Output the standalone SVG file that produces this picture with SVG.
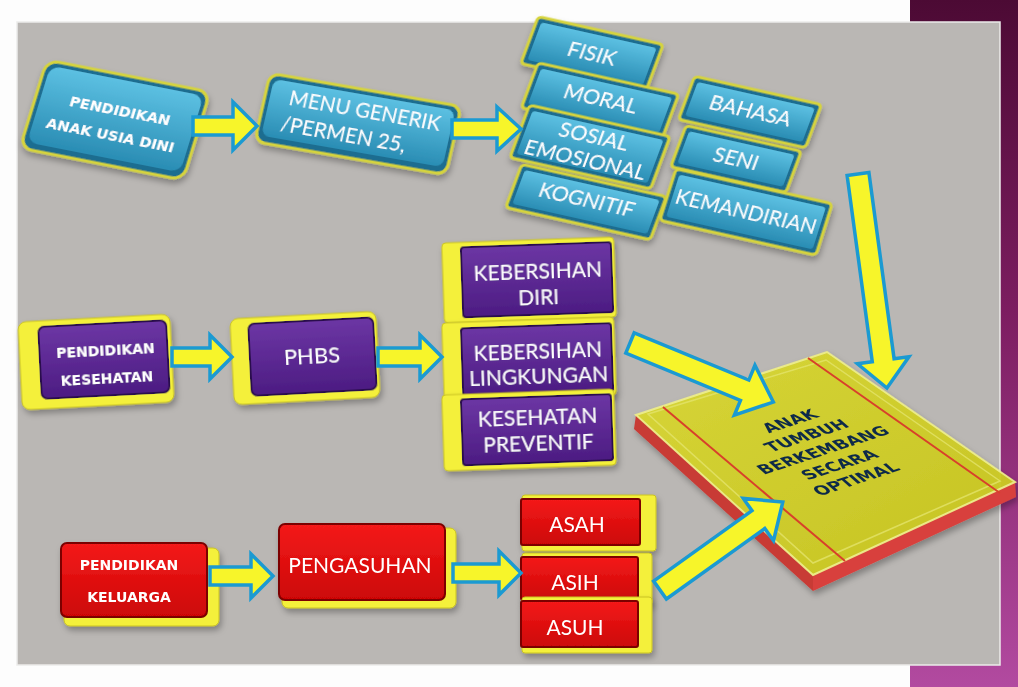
<svg xmlns="http://www.w3.org/2000/svg" width="1018" height="687" viewBox="0 0 1018 687">
<defs>
<linearGradient id="strip" x1="0" y1="0" x2="0" y2="1">
<stop offset="0" stop-color="#4c0a34"/><stop offset="0.45" stop-color="#7c1d60"/><stop offset="1" stop-color="#b24aa0"/>
</linearGradient>
<linearGradient id="blueG" x1="0" y1="0" x2="0" y2="1">
<stop offset="0" stop-color="#5cc0e2"/><stop offset="1" stop-color="#2a8db4"/>
</linearGradient>
<linearGradient id="purpG" x1="0" y1="0" x2="0" y2="1">
<stop offset="0" stop-color="#6c36a4"/><stop offset="1" stop-color="#4c1c82"/>
</linearGradient>
<linearGradient id="redG" x1="0" y1="0" x2="0" y2="1">
<stop offset="0" stop-color="#f41a1a"/><stop offset="1" stop-color="#cc0606"/>
</linearGradient>
<linearGradient id="bookG" x1="0" y1="0" x2="1" y2="1">
<stop offset="0" stop-color="#d9d834"/><stop offset="1" stop-color="#c9c61e"/>
</linearGradient>
<filter id="sh" x="-20%" y="-20%" width="140%" height="150%">
<feDropShadow dx="2" dy="4" stdDeviation="3" flood-color="#000" flood-opacity="0.3"/>
</filter>
<style>
.bOut{fill:#1d6d90;stroke:#d6d43c;stroke-width:3}
.bIn{fill:url(#blueG)}
.ySlab{fill:#f4f03a;stroke:#c9c222;stroke-width:1}
.pFace{fill:url(#purpG);stroke:#2c0c4e;stroke-width:2}
.rFace{fill:url(#redG);stroke:#7c0000;stroke-width:2}
.tB{font-family:"DejaVu Sans",sans-serif;font-weight:bold;fill:#fff;text-anchor:middle}
.tL{font-family:Lato,"Open Sans",sans-serif;fill:#fff;text-anchor:middle}
.tBook{font-family:"DejaVu Sans",sans-serif;font-weight:bold;fill:#102a48;text-anchor:middle;font-size:17px}
.arr{fill:#f7f52a;stroke:#1b9ad2;stroke-width:3.5;stroke-linejoin:miter}
</style>
</defs>

<rect x="0" y="0" width="1018" height="687" fill="#fdfdfd"/>
<rect x="910" y="0" width="108" height="687" fill="url(#strip)"/>
<rect x="17" y="22" width="983" height="643" fill="#bab7b4" stroke="#ecebea" stroke-width="1.5"/>

<!-- top row -->
<g id="node-paud" filter="url(#sh)" transform="translate(115,120) matrix(0.982,0.193,-0.293,0.956,0,0)">
<rect x="-83" y="-46" width="166" height="92" rx="12" class="bOut"/>
<rect x="-78" y="-41" width="156" height="80" rx="10" class="bIn"/>
<text x="2" y="-5" class="tB" font-size="14.5">PENDIDIKAN</text>
<text x="0" y="21" class="tB" font-size="14.5">ANAK USIA DINI</text>
</g>
<g id="node-menu" filter="url(#sh)" transform="translate(358,124) matrix(0.985,0.171,-0.22,0.976,0,0)">
<rect x="-97" y="-35" width="194" height="70" rx="10" class="bOut"/>
<rect x="-92" y="-30" width="184" height="58" rx="8" class="bIn"/>
<text x="4" y="-7" class="tL" font-size="20.5">MENU GENERIK</text>
<text x="-12" y="20" class="tL" font-size="20.5">/PERMEN 25,</text>
</g>

<g id="node-fisik" filter="url(#sh)" transform="translate(592,54) matrix(0.976,0.218,-0.35,0.94,0,0)">
<rect x="-64" y="-25" width="128" height="50" rx="4" class="bOut"/>
<rect x="-59" y="-20" width="118" height="40" rx="3" class="bIn"/>
<text x="0" y="7" class="tL" font-size="21">FISIK</text>
</g>
<g id="node-moral" filter="url(#sh)" transform="translate(600,101) matrix(0.976,0.218,-0.35,0.94,0,0)">
<rect x="-72" y="-24" width="144" height="48" rx="4" class="bOut"/>
<rect x="-67" y="-19" width="134" height="38" rx="3" class="bIn"/>
<text x="0" y="5" class="tL" font-size="21">MORAL</text>
</g>
<g id="node-bahasa" filter="url(#sh)" transform="translate(750,112) matrix(0.976,0.218,-0.35,0.94,0,0)">
<rect x="-65" y="-23" width="130" height="46" rx="4" class="bOut"/>
<rect x="-60" y="-18" width="120" height="36" rx="3" class="bIn"/>
<text x="0" y="6" class="tL" font-size="21">BAHASA</text>
</g>
<g id="node-sosial" filter="url(#sh)" transform="translate(590,147) matrix(0.976,0.218,-0.35,0.94,0,0)">
<rect x="-72" y="-28" width="144" height="56" rx="4" class="bOut"/>
<rect x="-67" y="-23" width="134" height="46" rx="3" class="bIn"/>
<text x="0" y="-4" class="tL" font-size="21">SOSIAL</text>
<text x="0" y="21" class="tL" font-size="21">EMOSIONAL</text>
</g>
<g id="node-seni" filter="url(#sh)" transform="translate(736,159) matrix(0.976,0.218,-0.35,0.94,0,0)">
<rect x="-59" y="-22" width="118" height="44" rx="4" class="bOut"/>
<rect x="-54" y="-17" width="108" height="34" rx="3" class="bIn"/>
<text x="0" y="7" class="tL" font-size="21">SENI</text>
</g>
<g id="node-kognitif" filter="url(#sh)" transform="translate(586,202) matrix(0.976,0.218,-0.35,0.94,0,0)">
<rect x="-74" y="-23" width="148" height="46" rx="4" class="bOut"/>
<rect x="-69" y="-18" width="138" height="36" rx="3" class="bIn"/>
<text x="0" y="5" class="tL" font-size="21">KOGNITIF</text>
</g>
<g id="node-kemandirian" filter="url(#sh)" transform="translate(746,212) matrix(0.976,0.218,-0.3,0.95,0,0)">
<rect x="-80" y="-27" width="160" height="54" rx="4" class="bOut"/>
<rect x="-75" y="-22" width="150" height="44" rx="3" class="bIn"/>
<text x="0" y="7" class="tL" font-size="20.5">KEMANDIRIAN</text>
</g>

<!-- middle row -->
<g id="node-kesehatan" filter="url(#sh)" transform="rotate(-3 96 361)">
<rect x="20" y="318" width="152" height="88" rx="8" class="ySlab"/>
<rect x="40" y="324" width="128" height="72" rx="6" class="pFace"/>
<text x="106" y="356" class="tB" font-size="14">PENDIDIKAN</text>
<text x="106" y="384" class="tB" font-size="14">KESEHATAN</text>
</g>
<g id="node-phbs" filter="url(#sh)" transform="rotate(-3 305 358)">
<rect x="232" y="315" width="146" height="86" rx="8" class="ySlab"/>
<rect x="250" y="321" width="125" height="72" rx="6" class="pFace"/>
<text x="312" y="364" class="tL" font-size="22">PHBS</text>
</g>
<g id="node-diri" filter="url(#sh)" transform="rotate(-2 529 279)">
<rect x="443" y="240" width="172" height="80" rx="4" class="ySlab"/>
<rect x="462" y="245" width="150" height="70" rx="3" class="pFace"/>
<text x="538" y="279" class="tL" font-size="21">KEBERSIHAN</text>
<text x="538" y="305" class="tL" font-size="21">DIRI</text>
</g>
<g id="node-lingkungan" filter="url(#sh)" transform="rotate(-2 529 358)">
<rect x="443" y="320" width="172" height="78" rx="4" class="ySlab"/>
<rect x="462" y="326" width="150" height="68" rx="3" class="pFace"/>
<text x="538" y="359" class="tL" font-size="21">KEBERSIHAN</text>
<text x="538" y="384" class="tL" font-size="21">LINGKUNGAN</text>
</g>
<g id="node-preventif" filter="url(#sh)" transform="rotate(-2 529 430)">
<rect x="443" y="392" width="172" height="76" rx="4" class="ySlab"/>
<rect x="462" y="397" width="150" height="66" rx="3" class="pFace"/>
<text x="538" y="425" class="tL" font-size="21">KESEHATAN</text>
<text x="538" y="451" class="tL" font-size="21">PREVENTIF</text>
</g>

<!-- bottom row -->
<g id="node-keluarga" filter="url(#sh)">
<rect x="64" y="548" width="155" height="78" rx="6" class="ySlab"/>
<rect x="61" y="543" width="146" height="74" rx="6" class="rFace"/>
<text x="129" y="570" class="tB" font-size="14">PENDIDIKAN</text>
<text x="129" y="602" class="tB" font-size="14">KELUARGA</text>
</g>
<g id="node-pengasuhan" filter="url(#sh)">
<rect x="282" y="528" width="174" height="80" rx="6" class="ySlab"/>
<rect x="279" y="524" width="166" height="76" rx="6" class="rFace"/>
<text x="360" y="573" class="tL" font-size="21">PENGASUHAN</text>
</g>
<g id="node-asah" filter="url(#sh)">
<rect x="522" y="495" width="134" height="56" rx="3" class="ySlab"/>
<rect x="521" y="499" width="119" height="46" rx="2" class="rFace"/>
<text x="577" y="532" class="tL" font-size="21">ASAH</text>
</g>
<g id="node-asih" filter="url(#sh)">
<rect x="522" y="553" width="130" height="52" rx="3" class="ySlab"/>
<rect x="521" y="557" width="117" height="43" rx="2" class="rFace"/>
<text x="575" y="590" class="tL" font-size="21">ASIH</text>
</g>
<g id="node-asuh" filter="url(#sh)">
<rect x="522" y="597" width="130" height="56" rx="3" class="ySlab"/>
<rect x="521" y="601" width="117" height="46" rx="2" class="rFace"/>
<text x="575" y="635" class="tL" font-size="21">ASUH</text>
</g>

<!-- book -->
<g id="node-anak" filter="url(#sh)">
<polygon points="636,415 813,575 813,591 634,429" fill="#c83a36"/>
<polygon points="813,575 1015,482 1016,497 813,591" fill="#d8413e"/>
<polygon points="636,415 827,352 1015,482 813,575" fill="url(#bookG)" stroke="#eeee88" stroke-width="2" opacity="0.95"/>
<polygon points="648,414 826,360 1000,481 813,563" fill="none" stroke="#e4e36a" stroke-width="1.5" opacity="0.8"/>
<line x1="663" y1="407" x2="845" y2="561" stroke="#d8402a" stroke-width="2"/>
<line x1="808" y1="358" x2="1000" y2="493" stroke="#d8402a" stroke-width="2"/>
<g transform="translate(823,450) matrix(0.95,-0.31,0.75,0.66,0,0)">
<text x="0" y="-38" class="tBook">ANAK</text>
<text x="0" y="-16" class="tBook">TUMBUH</text>
<text x="0" y="6" class="tBook">BERKEMBANG</text>
<text x="0" y="28" class="tBook">SECARA</text>
<text x="0" y="50" class="tBook">OPTIMAL</text>
</g>
</g>

<!-- connectors -->
<g id="connectors">
<path class="arr" transform="translate(193,126)" d="M0,-9 L40,-9 L40,-24 L64,0 L40,24 L40,9 L0,9 Z"/>
<path class="arr" transform="translate(452,129)" d="M0,-9 L45,-9 L45,-22 L69,0 L45,22 L45,9 L0,9 Z"/>
<path class="arr" transform="translate(172,357)" d="M0,-9 L38,-9 L38,-22 L60,0 L38,22 L38,9 L0,9 Z"/>
<path class="arr" transform="translate(378,357)" d="M0,-9 L42,-9 L42,-22 L64,0 L42,22 L42,9 L0,9 Z"/>
<path class="arr" transform="translate(630,343) rotate(22.4)" d="M0,-11 L124,-11 L124,-27 L155,0 L124,27 L124,11 L0,11 Z"/>
<path class="arr" transform="translate(858,174) rotate(82.3)" d="M0,-11 L188,-11 L188,-26 L216,0 L188,26 L188,11 L0,11 Z"/>
<path class="arr" transform="translate(210,576)" d="M0,-9 L41,-9 L41,-22 L63,0 L41,22 L41,9 L0,9 Z"/>
<path class="arr" transform="translate(453,573)" d="M0,-9 L46,-9 L46,-22 L68,0 L46,22 L46,9 L0,9 Z"/>
<path class="arr" transform="translate(660,590) rotate(-35.6)" d="M0,-11 L121,-11 L121,-26 L151,0 L121,26 L121,11 L0,11 Z"/>
</g>
</svg>
